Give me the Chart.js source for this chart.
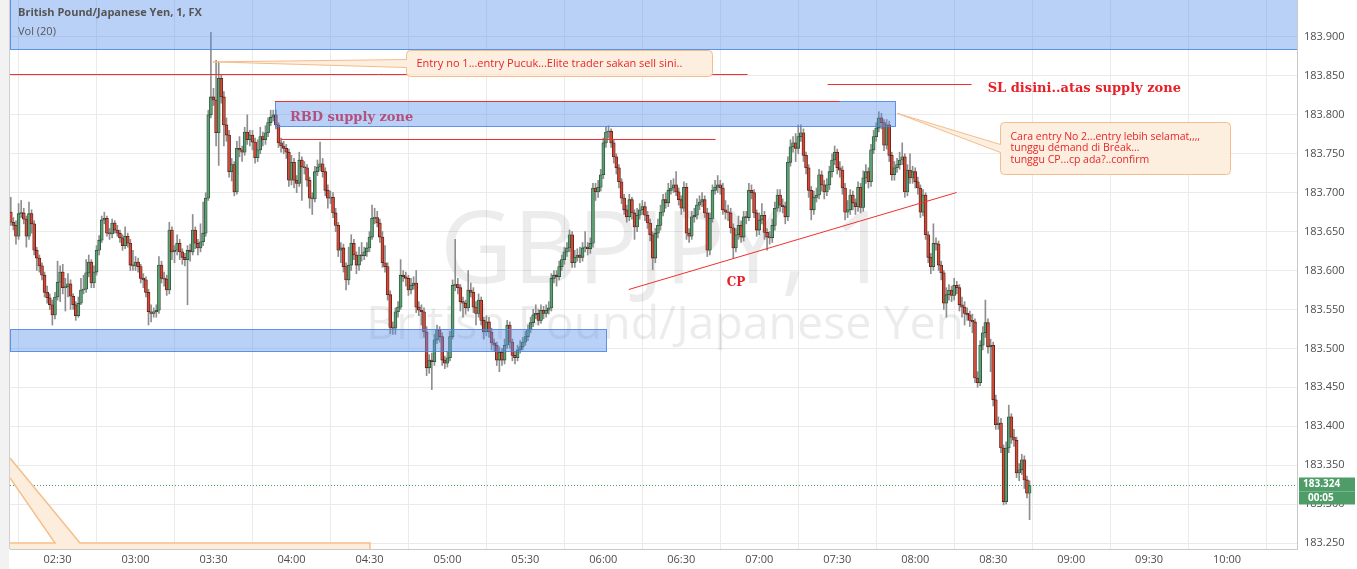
<!DOCTYPE html>
<html><head><meta charset="utf-8">
<script src="https://cdn.jsdelivr.net/npm/chart.js@4.4.0/dist/chart.umd.min.js"></script>
<style>html,body{margin:0;padding:0;background:#fff;}#wrap{width:1357px;height:569px;position:relative;}</style>
</head><body><div id="wrap"><canvas id="c" width="1357" height="569"></canvas></div>
<script>
// minute-of-day of first candle (02:12), 1-minute candles [open, high, low, close]
const firstMinute = 132;
const c0212 = [
[183.675,183.694,183.658,183.662],[183.662,183.668,183.652,183.658],[183.658,183.664,183.634,183.644],[183.644,183.686,183.640,183.673],
[183.673,183.690,183.668,183.674],[183.674,183.680,183.660,183.666],[183.666,183.670,183.630,183.644],[183.644,183.688,183.640,183.673],
[183.673,183.678,183.648,183.660],[183.660,183.664,183.620,183.626],[183.626,183.630,183.600,183.616],[183.616,183.620,183.598,183.606],
[183.606,183.610,183.588,183.594],[183.594,183.598,183.566,183.572],[183.572,183.580,183.558,183.565],[183.565,183.570,183.550,183.556],
[183.556,183.562,183.530,183.543],[183.543,183.572,183.538,183.566],[183.566,183.612,183.562,183.585],[183.585,183.606,183.560,183.598],
[183.598,183.608,183.570,183.578],[183.578,183.590,183.548,183.579],[183.579,183.596,183.566,183.583],[183.583,183.588,183.550,183.567],
[183.567,183.570,183.550,183.556],[183.556,183.560,183.536,183.542],[183.542,183.566,183.540,183.558],[183.558,183.590,183.556,183.575],
[183.575,183.594,183.570,183.576],[183.576,183.614,183.572,183.597],[183.597,183.620,183.592,183.611],[183.611,183.614,183.578,183.584],
[183.584,183.606,183.578,183.598],[183.598,183.632,183.594,183.626],[183.626,183.645,183.620,183.639],[183.639,183.670,183.636,183.665],
[183.665,183.675,183.660,183.667],[183.667,183.670,183.644,183.648],[183.648,183.654,183.640,183.647],[183.647,183.666,183.642,183.661],
[183.661,183.664,183.648,183.652],[183.652,183.658,183.644,183.648],[183.648,183.652,183.636,183.642],[183.642,183.646,183.626,183.632],
[183.632,183.656,183.628,183.644],[183.644,183.648,183.630,183.635],[183.635,183.640,183.600,183.607],[183.607,183.626,183.600,183.606]
];
const c0300 = [
[183.606,183.618,183.600,183.611],[183.611,183.616,183.598,183.605],[183.605,183.608,183.584,183.590],[183.590,183.596,183.578,183.588],
[183.588,183.592,183.566,183.572],[183.572,183.576,183.530,183.547],[183.547,183.556,183.534,183.545],[183.545,183.552,183.540,183.547],
[183.547,183.556,183.540,183.549],[183.549,183.618,183.545,183.607],[183.607,183.612,183.584,183.590],[183.590,183.598,183.580,183.589],
[183.589,183.594,183.568,183.575],[183.575,183.662,183.570,183.652],[183.652,183.656,183.614,183.624],[183.624,183.632,183.610,183.626],
[183.626,183.646,183.620,183.635],[183.635,183.640,183.614,183.624],[183.624,183.628,183.608,183.617],[183.617,183.622,183.606,183.614],
[183.614,183.632,183.556,183.626],[183.626,183.634,183.612,183.624],[183.624,183.672,183.620,183.652],[183.652,183.656,183.628,183.635],
[183.635,183.640,183.620,183.629],[183.629,183.660,183.624,183.637],[183.637,183.688,183.632,183.648],[183.648,183.700,183.644,183.693],
[183.693,183.806,183.690,183.800],[183.800,183.906,183.796,183.823],[183.823,183.834,183.812,183.819],[183.819,183.870,183.760,183.777],
[183.777,183.868,183.735,183.847],[183.847,183.852,183.815,183.823],[183.823,183.830,183.760,183.787],[183.787,183.796,183.766,183.774],
[183.774,183.780,183.720,183.727],[183.727,183.744,183.715,183.736],[183.736,183.740,183.696,183.701],[183.701,183.766,183.698,183.757],
[183.757,183.772,183.746,183.755],[183.755,183.760,183.740,183.752],[183.752,183.784,183.748,183.778],[183.778,183.800,183.762,183.768],
[183.768,183.780,183.760,183.774],[183.774,183.780,183.755,183.765],[183.765,183.770,183.738,183.745],[183.745,183.768,183.740,183.755],
[183.755,183.784,183.750,183.772],[183.772,183.778,183.760,183.768],[183.768,183.786,183.762,183.777],[183.777,183.796,183.772,183.790],
[183.790,183.806,183.786,183.797],[183.797,183.806,183.792,183.800],[183.800,183.806,183.782,183.787],[183.787,183.790,183.758,183.764],
[183.764,183.770,183.752,183.760],[183.760,183.766,183.750,183.757],[183.757,183.762,183.744,183.752],[183.752,183.756,183.708,183.716]
];
const c0400 = [
[183.716,183.748,183.710,183.739],[183.739,183.744,183.706,183.716],[183.716,183.722,183.700,183.712],[183.712,183.752,183.708,183.742],
[183.742,183.746,183.690,183.733],[183.733,183.740,183.724,183.732],[183.732,183.736,183.708,183.716],[183.716,183.720,183.680,183.693],
[183.693,183.700,183.672,183.692],[183.692,183.734,183.688,183.727],[183.727,183.742,183.722,183.733],[183.733,183.765,183.728,183.737],
[183.737,183.744,183.720,183.727],[183.727,183.732,183.696,183.703],[183.703,183.710,183.680,183.693],[183.693,183.702,183.686,183.694],
[183.694,183.700,183.668,183.674],[183.674,183.680,183.650,183.658],[183.658,183.662,183.618,183.626],[183.626,183.636,183.610,183.629],
[183.629,183.634,183.598,183.605],[183.605,183.610,183.575,183.588],[183.588,183.630,183.582,183.607],[183.607,183.646,183.600,183.635],
[183.635,183.640,183.614,183.620],[183.620,183.624,183.596,183.607],[183.607,183.630,183.600,183.620],[183.620,183.636,183.612,183.619],
[183.619,183.630,183.614,183.624],[183.624,183.636,183.618,183.629],[183.629,183.650,183.624,183.643],[183.643,183.684,183.640,183.667],
[183.667,183.680,183.660,183.668],[183.668,183.676,183.656,183.661],[183.661,183.666,183.636,183.643],[183.643,183.650,183.604,183.610],
[183.610,183.632,183.598,183.605],[183.605,183.610,183.562,183.569],[183.569,183.574,183.519,183.527],[183.527,183.534,183.518,183.526],
[183.526,183.552,183.518,183.547],[183.547,183.560,183.540,183.553],[183.553,183.614,183.550,183.594],[183.594,183.600,183.586,183.592],
[183.592,183.598,183.580,183.590],[183.590,183.594,183.568,183.575],[183.575,183.590,183.570,183.581],[183.581,183.592,183.576,183.584],
[183.584,183.600,183.546,183.553],[183.553,183.560,183.542,183.549],[183.549,183.556,183.530,183.547],[183.547,183.552,183.514,183.521],
[183.521,183.528,183.465,183.475],[183.475,183.492,183.468,183.485],[183.485,183.494,183.447,183.483],[183.483,183.518,183.478,183.511],
[183.511,183.530,183.506,183.524],[183.524,183.528,183.508,183.515],[183.515,183.520,183.478,183.485],[183.485,183.490,183.474,183.481]
];
const c0500 = [
[183.481,183.496,183.476,183.488],[183.488,183.522,183.484,183.515],[183.515,183.588,183.512,183.581],[183.581,183.640,183.574,183.582],
[183.582,183.590,183.570,183.578],[183.578,183.582,183.548,183.560],[183.560,183.566,183.540,183.558],[183.558,183.562,183.544,183.552],
[183.552,183.600,183.548,183.575],[183.575,183.584,183.566,183.572],[183.572,183.578,183.546,183.553],[183.553,183.560,183.530,183.545],
[183.545,183.570,183.540,183.562],[183.562,183.566,183.530,183.536],[183.536,183.540,183.512,183.521],[183.521,183.542,183.516,183.534],
[183.534,183.540,183.514,183.521],[183.521,183.526,183.498,183.507],[183.507,183.512,183.496,183.504],[183.504,183.508,183.478,183.485],
[183.485,183.502,183.470,183.495],[183.495,183.500,183.478,183.485],[183.485,183.512,183.480,183.504],[183.504,183.536,183.500,183.530],
[183.530,183.534,183.500,183.508],[183.508,183.512,183.484,183.491],[183.491,183.496,183.480,183.488],[183.488,183.504,183.484,183.498],
[183.498,183.510,183.494,183.502],[183.502,183.514,183.498,183.508],[183.508,183.522,183.504,183.515],[183.515,183.530,183.510,183.524],
[183.524,183.540,183.520,183.533],[183.533,183.550,183.528,183.543],[183.543,183.556,183.538,183.545],[183.545,183.550,183.530,183.536],
[183.536,183.556,183.532,183.549],[183.549,183.554,183.538,183.545],[183.545,183.556,183.540,183.549],[183.549,183.560,183.544,183.552],
[183.552,183.596,183.548,183.590],[183.590,183.600,183.584,183.594],[183.594,183.600,183.580,183.592],[183.592,183.612,183.588,183.605],
[183.605,183.620,183.600,183.614],[183.614,183.630,183.608,183.624],[183.624,183.636,183.618,183.629],[183.629,183.652,183.624,183.646],
[183.646,183.650,183.604,183.610],[183.610,183.626,183.604,183.617],[183.617,183.628,183.612,183.620],[183.620,183.630,183.610,183.617],
[183.617,183.636,183.612,183.629],[183.629,183.650,183.624,183.630],[183.630,183.636,183.620,183.628],[183.628,183.642,183.622,183.635],
[183.635,183.712,183.630,183.706],[183.706,183.712,183.690,183.701],[183.701,183.716,183.694,183.707],[183.707,183.730,183.702,183.723]
];
const c0600 = [
[183.723,183.770,183.718,183.764],[183.764,183.785,183.758,183.778],[183.778,183.786,183.770,183.779],[183.779,183.782,183.758,183.764],
[183.764,183.768,183.738,183.746],[183.746,183.750,183.724,183.732],[183.732,183.736,183.706,183.714],[183.714,183.718,183.686,183.693],
[183.693,183.698,183.672,183.678],[183.678,183.684,183.662,183.669],[183.669,183.698,183.664,183.691],[183.691,183.694,183.666,183.674],
[183.674,183.678,183.640,183.656],[183.656,183.680,183.650,183.671],[183.671,183.686,183.666,183.678],[183.678,183.690,183.672,183.682],
[183.682,183.688,183.664,183.671],[183.671,183.676,183.654,183.661],[183.661,183.666,183.638,183.646],[183.646,183.650,183.601,183.616],
[183.616,183.654,183.610,183.648],[183.648,183.666,183.642,183.658],[183.658,183.684,183.652,183.675],[183.675,183.698,183.670,183.691],
[183.691,183.700,183.680,183.687],[183.687,183.712,183.682,183.703],[183.703,183.716,183.698,183.706],[183.706,183.718,183.700,183.710],
[183.710,183.727,183.696,183.701],[183.701,183.706,183.684,183.691],[183.691,183.696,183.672,183.680],[183.680,183.714,183.676,183.707],
[183.707,183.712,183.640,183.648],[183.648,183.654,183.636,183.644],[183.644,183.676,183.640,183.669],[183.669,183.680,183.662,183.671],
[183.671,183.692,183.666,183.684],[183.684,183.696,183.678,183.688],[183.688,183.700,183.682,183.691],[183.691,183.696,183.668,183.674],
[183.674,183.680,183.618,183.626],[183.626,183.674,183.620,183.667],[183.667,183.710,183.662,183.703],[183.703,183.716,183.698,183.707],
[183.707,183.722,183.700,183.710],[183.710,183.716,183.698,183.706],[183.706,183.712,183.672,183.678],[183.678,183.690,183.666,183.675],
[183.675,183.684,183.664,183.674],[183.674,183.680,183.648,183.655],[183.655,183.660,183.616,183.629],[183.629,183.654,183.624,183.646],
[183.646,183.670,183.640,183.658],[183.658,183.664,183.636,183.643],[183.643,183.676,183.638,183.669],[183.669,183.676,183.660,183.668],
[183.668,183.712,183.664,183.703],[183.703,183.710,183.692,183.700],[183.700,183.704,183.668,183.674],[183.674,183.678,183.644,183.652]
];
const c0700 = [
[183.652,183.674,183.646,183.665],[183.665,183.686,183.660,183.671],[183.671,183.676,183.640,183.649],[183.649,183.654,183.626,183.643],
[183.643,183.650,183.634,183.642],[183.642,183.666,183.636,183.658],[183.658,183.688,183.652,183.680],[183.680,183.704,183.676,183.697],
[183.697,183.704,183.676,183.684],[183.684,183.692,183.674,183.682],[183.682,183.688,183.660,183.669],[183.669,183.746,183.664,183.739],
[183.739,183.768,183.734,183.759],[183.759,183.772,183.752,183.764],[183.764,183.776,183.740,183.757],[183.757,183.787,183.750,183.772],
[183.772,183.787,183.766,183.777],[183.777,183.782,183.740,183.748],[183.748,183.752,183.724,183.732],[183.732,183.736,183.694,183.703],
[183.703,183.708,183.665,183.678],[183.678,183.702,183.672,183.694],[183.694,183.706,183.688,183.697],[183.697,183.730,183.692,183.723],
[183.723,183.728,183.702,183.710],[183.710,183.716,183.692,183.701],[183.701,183.718,183.696,183.710],[183.710,183.734,183.704,183.727],
[183.727,183.750,183.720,183.742],[183.742,183.760,183.736,183.752],[183.752,183.756,183.724,183.732],[183.732,183.740,183.720,183.729],
[183.729,183.734,183.698,183.706],[183.706,183.712,183.665,183.675],[183.675,183.690,183.668,183.678],[183.678,183.704,183.672,183.697],
[183.697,183.702,183.678,183.687],[183.687,183.692,183.672,183.682],[183.682,183.714,183.676,183.707],[183.707,183.712,183.674,183.681],
[183.681,183.728,183.676,183.719],[183.719,183.736,183.712,183.727],[183.727,183.732,183.706,183.714],[183.714,183.762,183.708,183.755],
[183.755,183.780,183.750,183.772],[183.772,183.790,183.766,183.783],[183.783,183.804,183.778,183.796],[183.796,183.802,183.782,183.790],
[183.790,183.794,183.754,183.761],[183.761,183.794,183.756,183.787],[183.787,183.792,183.740,183.748],[183.748,183.752,183.716,183.723],
[183.723,183.740,183.716,183.732],[183.732,183.744,183.726,183.736],[183.736,183.752,183.730,183.742],[183.742,183.764,183.736,183.746],
[183.746,183.750,183.694,183.701],[183.701,183.736,183.696,183.729],[183.729,183.750,183.712,183.719],[183.719,183.734,183.712,183.727]
];
const c0800 = [
[183.727,183.732,183.706,183.714],[183.714,183.720,183.698,183.706],[183.706,183.710,183.668,183.675],[183.675,183.704,183.670,183.697],
[183.697,183.700,183.640,183.646],[183.646,183.650,183.610,183.617],[183.617,183.622,183.596,183.605],[183.605,183.660,183.600,183.635],
[183.635,183.642,183.626,183.634],[183.634,183.638,183.600,183.607],[183.607,183.612,183.588,183.597],[183.597,183.600,183.550,183.558],
[183.558,183.578,183.540,183.569],[183.569,183.582,183.562,183.575],[183.575,183.580,183.560,183.568],[183.568,183.590,183.562,183.581],
[183.581,183.586,183.570,183.578],[183.578,183.582,183.548,183.556],[183.556,183.566,183.540,183.553],[183.553,183.560,183.530,183.545],
[183.545,183.552,183.536,183.543],[183.543,183.548,183.528,183.536],[183.536,183.544,183.520,183.534],[183.534,183.538,183.456,183.462],
[183.462,183.470,183.450,183.456],[183.456,183.510,183.452,183.504],[183.504,183.528,183.498,183.520],[183.520,183.562,183.514,183.533],
[183.533,183.538,183.494,183.502],[183.502,183.512,183.470,183.504],[183.504,183.508,183.426,183.434],[183.434,183.440,183.396,183.402],
[183.402,183.412,183.396,183.404],[183.404,183.410,183.366,183.372],[183.372,183.376,183.299,183.303],[183.303,183.380,183.300,183.372],
[183.372,183.427,183.366,183.412],[183.412,183.416,183.378,183.386],[183.386,183.396,183.374,183.382],[183.382,183.386,183.334,183.340],
[183.340,183.352,183.330,183.344],[183.344,183.364,183.338,183.357],[183.357,183.362,183.320,183.331],[183.331,183.336,183.308,183.314],
[183.314,183.330,183.280,183.324]
];
const timeTicks = [150,180,210,240,270,300,330,360,390,420,450,480,510,540,570,600];
const priceTicks = [183.25,183.30,183.35,183.40,183.45,183.50,183.55,183.60,183.65,183.70,183.75,183.80,183.85,183.90];
const lastPrice = 183.324;
const countdown = '00:05';
const titleText = 'British Pound/Japanese Yen, 1, FX';
const volText = 'Vol (20)';
const symbolText = 'GBPJPY, 1';
const nameText = 'British Pound/Japanese Yen';
// annotations in data units: minutes of day / price
const topZone = {t0:131.7, t1:626.9, p0:183.885, p1:183.96};
const rbdZone = {t0:233.6, t1:472.3, p0:183.786, p1:183.818};
const lowZone = {t0:131.7, t1:360.9, p0:183.497, p1:183.525};
const redLines = [
  {t0:131.7, t1:415.5, p0:183.852, p1:183.852},
  {t0:233.6, t1:450.9, p0:183.818, p1:183.818},
  {t0:236.0, t1:403.2, p0:183.769, p1:183.769},
  {t0:446.3, t1:501.7, p0:183.840, p1:183.840},
  {t0:369.8, t1:495.9, p0:183.576, p1:183.701}
];
const callout1 = {t0:284.0, t1:401.7, p0:183.850, p1:183.883, tipT:209.8, tipP:183.868,
  lines:['Entry no 1...entry Pucuk...Elite trader sakan sell sini..']};
const callout2 = {t0:512.5, t1:601.0, p0:183.724, p1:183.791, tipT:473.0, tipP:183.802,
  lines:['Cara entry No 2...entry lebih selamat,,,,','tunggu demand di Break...','tunggu CP...cp ada?..confirm']};
const labels = [
  {text:'RBD supply zone', t:239.4, p:183.797, color:'#b4507e', font:'bold 13px "DejaVu Serif"'},
  {text:'SL disini..atas supply zone', t:507.9, p:183.834, color:'#e8202a', font:'bold 13px "DejaVu Serif"'},
  {text:'CP', t:407.5, p:183.584, color:'#e8202a', font:'bold 12px "DejaVu Serif"'}
];

const candles = [].concat(c0212, c0300, c0400, c0500, c0600, c0700, c0800);
const up = candles.map(c => c[3] >= c[0]);
const bodyData = candles.map((c,i) => ({x: firstMinute+i, y: [c[0], c[3]]}));
const wickData = candles.map((c,i) => ({x: firstMinute+i, y: [c[2], c[1]]}));
const pad2 = n => (n<10?'0':'')+n;

const overlay = {
  id:'overlay',
  beforeDraw(chart){
    const ctx = chart.ctx, a = chart.chartArea;
    ctx.save();
    ctx.fillStyle = '#ffffff'; ctx.fillRect(0,0,chart.width,chart.height);
    ctx.fillStyle = '#f2f2f2'; ctx.fillRect(0,0,a.left-1,chart.height);
    ctx.strokeStyle = '#d0d0d0'; ctx.lineWidth=1;
    ctx.beginPath(); ctx.moveTo(a.left-0.5,0); ctx.lineTo(a.left-0.5,a.bottom); ctx.stroke();
    ctx.restore();
  },
  beforeDatasetsDraw(chart){
    const ctx = chart.ctx, a = chart.chartArea;
    ctx.save();
    ctx.beginPath(); ctx.rect(a.left,a.top,a.right-a.left,a.bottom-a.top); ctx.clip();
    ctx.fillStyle = 'rgba(0,0,0,0.075)';
    ctx.textAlign='center'; ctx.textBaseline='alphabetic';
    const cx = a.left + (a.right-a.left)*0.509;
    let fs = 96; ctx.font = fs+'px "Open Sans"';
    fs = fs*450/ctx.measureText(symbolText).width; ctx.font = fs+'px "Open Sans"';
    ctx.fillText(symbolText, cx, a.top+(a.bottom-a.top)*0.515);
    let fs2 = 40; ctx.font = fs2+'px "Open Sans"';
    fs2 = fs2*598/ctx.measureText(nameText).width; ctx.font = fs2+'px "Open Sans"';
    ctx.fillText(nameText, cx, a.top+(a.bottom-a.top)*0.618);
    ctx.restore();
  },
  afterDatasetsDraw(chart){
    const ctx = chart.ctx, a = chart.chartArea;
    const xs = chart.scales.x, ys = chart.scales.y;
    const X = t => xs.getPixelForValue(t), Y = p => ys.getPixelForValue(p);
    ctx.save();
    ctx.beginPath(); ctx.rect(a.left,a.top,a.right-a.left,a.bottom-a.top); ctx.clip();
    [topZone, rbdZone, lowZone].forEach(z => {
      const x0=Math.round(X(z.t0))+0.5, x1=Math.round(X(z.t1))+0.5, y0=Math.round(Y(z.p1))+0.5, y1=Math.round(Y(z.p0))+0.5;
      ctx.fillStyle='rgba(90,145,235,0.42)'; ctx.fillRect(x0,y0,x1-x0,y1-y0);
      ctx.strokeStyle='rgba(70,130,230,0.85)'; ctx.lineWidth=1; ctx.strokeRect(x0,y0,x1-x0,y1-y0);
    });
    ctx.strokeStyle='#f03030'; ctx.lineWidth=1;
    redLines.forEach(l => {
      ctx.beginPath(); ctx.moveTo(X(l.t0), Math.round(Y(l.p0))+0.5); ctx.lineTo(X(l.t1), Math.round(Y(l.p1))+0.5); ctx.stroke();
    });
    ctx.strokeStyle='#3f9a5e'; ctx.setLineDash([1,2]);
    const ly = Math.round(Y(lastPrice))+0.5;
    ctx.beginPath(); ctx.moveTo(a.left,ly); ctx.lineTo(a.right,ly); ctx.stroke();
    ctx.setLineDash([]);
    // bottom-left callout remnant: tail wedge + top of a box below the view
    const L = a.left, B = a.bottom;
    ctx.fillStyle='rgba(253,236,218,0.95)'; ctx.strokeStyle='#f5bf8c'; ctx.lineWidth=1.5;
    ctx.beginPath();
    ctx.moveTo(L, 458); ctx.lineTo(L+70, 543); ctx.lineTo(L+360, 543); ctx.lineTo(L+360, B+3);
    ctx.lineTo(L, B+3); ctx.lineTo(L, 543); ctx.lineTo(L+45, 543); ctx.lineTo(L, 478); ctx.closePath(); ctx.fill();
    ctx.beginPath(); ctx.moveTo(L,458); ctx.lineTo(L+70,543); ctx.lineTo(L+360,543); ctx.lineTo(L+360,B+3); ctx.stroke();
    ctx.beginPath(); ctx.moveTo(L,478); ctx.lineTo(L+45,543); ctx.lineTo(L,543); ctx.stroke();
    ctx.restore();

    const drawCallout = (c, fontPx, lh) => {
      const x0=Math.round(X(c.t0))+0.5, x1=Math.round(X(c.t1))+0.5, y0=Math.round(Y(c.p1))+0.5, y1=Math.round(Y(c.p0))+0.5;
      const tx=X(c.tipT), ty=Y(c.tipP);
      ctx.save();
      ctx.fillStyle='rgba(253,238,222,0.95)'; ctx.strokeStyle='#f3bd8c'; ctx.lineWidth=1;
      const r=4, midY=(y0+y1)/2;
      ctx.beginPath();
      ctx.moveTo(x0+r,y0); ctx.lineTo(x1-r,y0); ctx.quadraticCurveTo(x1,y0,x1,y0+r);
      ctx.lineTo(x1,y1-r); ctx.quadraticCurveTo(x1,y1,x1-r,y1); ctx.lineTo(x0+r,y1);
      ctx.quadraticCurveTo(x0,y1,x0,y1-r);
      ctx.lineTo(x0, midY+4); ctx.lineTo(tx,ty); ctx.lineTo(x0, midY-4);
      ctx.lineTo(x0,y0+r); ctx.quadraticCurveTo(x0,y0,x0+r,y0); ctx.closePath();
      ctx.fill(); ctx.stroke();
      ctx.fillStyle='#e8262a'; ctx.font=fontPx+'px "Open Sans"'; ctx.textBaseline='middle'; ctx.textAlign='left';
      const n=c.lines.length, startY = midY - (n-1)*lh/2;
      c.lines.forEach((s,i)=>ctx.fillText(s, x0+10, startY+i*lh));
      ctx.restore();
    };
    drawCallout(callout1, 11, 12);
    drawCallout(callout2, 10.5, 11.7);

    ctx.save();
    ctx.textBaseline='middle'; ctx.textAlign='left';
    labels.forEach(l => { ctx.fillStyle=l.color; ctx.font=l.font; ctx.fillText(l.text, X(l.t), Y(l.p)); });
    ctx.fillStyle='#555'; ctx.font='bold 11px "Open Sans"';
    ctx.fillText(titleText, a.left+8, 13);
    ctx.font='11px "Open Sans"'; ctx.fillText(volText, a.left+8, 32);
    const bx = a.right+2;
    ctx.fillStyle='#4e9c67';
    ctx.fillRect(bx, ly-8, 56, 14);
    ctx.fillRect(bx, ly+6, 56, 13);
    ctx.fillStyle='#ffffff'; ctx.font='bold 10px "Open Sans"'; ctx.textAlign='left';
    ctx.fillText(lastPrice.toFixed(3), bx+4, ly-1);
    ctx.fillText(countdown, bx+9, ly+13);
    ctx.restore();
  }
};

new Chart(document.getElementById('c'), {
  type:'bar',
  data:{datasets:[
    {label:'body', data:bodyData, grouped:false, order:0, barThickness:3, minBarLength:1,
     backgroundColor: up.map(u=>u?'#5f9e74':'#cf4b3a'), borderColor: up.map(u=>u?'#224f33':'#5b1a13'), borderWidth:0.8, borderSkipped:false},
    {label:'wick', data:wickData, grouped:false, order:1, barThickness:1, backgroundColor:'#8e8e8e', borderWidth:0}
  ]},
  options:{
    responsive:false, animation:false, maintainAspectRatio:false,
    layout:{padding:{left:10, top:0, right:0, bottom:0}},
    plugins:{legend:{display:false}, tooltip:{enabled:false}},
    scales:{
      x:{type:'linear', min:131.7, max:626.9, offset:false,
         afterBuildTicks: s => { s.ticks = timeTicks.map(v=>({value:v})); },
         afterFit: s => { s.height = 20; s.paddingLeft = 0; s.paddingRight = 0; },
         grid:{color:'#eaeaea', drawTicks:false},
         border:{display:true, color:'#c9c9c9'},
         ticks:{padding:4, color:'#4d4d4d', font:{family:'"Open Sans"', size:11}, maxRotation:0, autoSkip:false,
           callback: v => pad2(Math.floor(v/60))+':'+pad2(v%60)}},
      y:{position:'right', min:183.2423, max:183.9475,
         afterBuildTicks: s => { s.ticks = priceTicks.map(v=>({value:v})); },
         afterFit: s => { s.width = 60; s.paddingTop = 0; s.paddingBottom = 0; },
         grid:{color:'#eaeaea', drawTicks:false},
         border:{display:true, color:'#c9c9c9'},
         ticks:{padding:7, color:'#4d4d4d', font:{family:'"Open Sans"', size:11}, callback: v => Number(v).toFixed(3)}}
    }
  },
  plugins:[overlay]
});
</script></body></html>
